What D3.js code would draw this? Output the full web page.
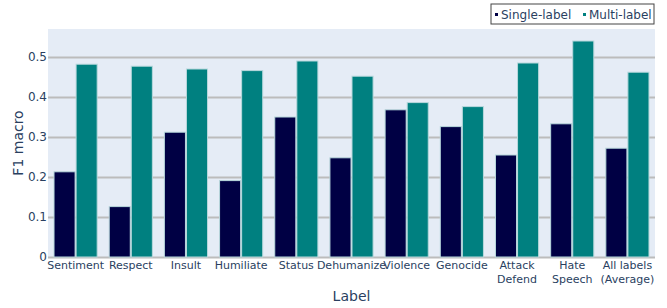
<!DOCTYPE html>
<html lang="en">
<head>
    <meta charset="UTF-8">
    <title>F1 macro by label</title>
    <script src="https://d3js.org/d3.v7.min.js"></script>
    <style>
        body { margin: 0; background: #fff; }
        text { font-family: "DejaVu Sans", Verdana, sans-serif; }
    </style>
</head>
<body>
    <script>
        var labels = ["Sentiment", "Respect", "Insult", "Humiliate", "Status", "Dehumanize",
            "Violence", "Genocide", "Attack\nDefend", "Hate\nSpeech", "All labels\n(Average)"];
        var singleLabel = [0.213, 0.126, 0.312, 0.191, 0.350, 0.248, 0.368, 0.326, 0.255, 0.333, 0.272];
        var multiLabel = [0.482, 0.477, 0.470, 0.466, 0.490, 0.452, 0.386, 0.376, 0.485, 0.540, 0.462];
        var seriesNames = ["Single-label", "Multi-label"];
        var yTicks = [0, 0.1, 0.2, 0.3, 0.4, 0.5];

        var w = 667, h = 308;
        var margin = { top: 29, right: 12, bottom: 51, left: 48 };
        var colors = ["#000044", "#008080"];
        var textColor = "#2a3f5f";

        var svg = d3.select("body").append("svg")
            .attr("width", w)
            .attr("height", h);

        var x = d3.scaleBand()
            .domain(labels)
            .range([margin.left, w - margin.right])
            .paddingInner(0.2)
            .paddingOuter(0.1);

        var xSub = d3.scaleBand()
            .domain(seriesNames)
            .range([0, x.bandwidth()]);

        var y = d3.scaleLinear()
            .domain([0, 0.57])
            .range([h - margin.bottom, margin.top]);

        // plot background
        svg.append("rect")
            .attr("x", margin.left)
            .attr("y", margin.top)
            .attr("width", w - margin.left - margin.right)
            .attr("height", h - margin.top - margin.bottom)
            .attr("fill", "#e5ecf6");

        // gridlines + y labels
        var yAxis = svg.append("g")
            .attr("transform", "translate(" + margin.left + ",0)")
            .call(d3.axisLeft(y).tickValues(yTicks)
                .tickSize(-(w - margin.left - margin.right))
                .tickPadding(1)
                .tickFormat(function(d) { return d === 0 ? "0" : d3.format(".1f")(d); }));
        yAxis.select(".domain").remove();
        yAxis.selectAll("line").attr("stroke", "#bcbcbc").attr("stroke-width", 2);
        yAxis.selectAll("text").attr("fill", textColor).attr("font-size", 12);

        var data = labels.map(function(l, i) {
            return { label: l, values: [singleLabel[i], multiLabel[i]] };
        });

        var groups = svg.selectAll("g.grp")
            .data(data)
            .enter().append("g")
            .attr("class", "grp")
            .attr("transform", function(d) { return "translate(" + x(d.label) + ",0)"; });

        groups.selectAll("rect")
            .data(function(d) { return d.values.map(function(v, i) { return { s: i, v: v }; }); })
            .enter().append("rect")
            .attr("x", function(d) { return xSub(seriesNames[d.s]) + 0.5; })
            .attr("y", function(d) { return y(d.v); })
            .attr("width", xSub.bandwidth() - 1)
            .attr("height", function(d) { return y(0) - y(d.v); })
            .attr("fill", function(d) { return colors[d.s]; })
            .attr("stroke", "#b8d8dc")
            .attr("stroke-width", 1);

        // x tick labels (multi-line)
        var xLab = svg.append("g");
        labels.forEach(function(l) {
            var t = xLab.append("text")
                .attr("x", x(l) + x.bandwidth() / 2)
                .attr("y", h - margin.bottom + 12)
                .attr("text-anchor", "middle")
                .attr("fill", textColor)
                .attr("font-size", 11);
            l.split("\n").forEach(function(part, k) {
                t.append("tspan")
                    .attr("x", x(l) + x.bandwidth() / 2)
                    .attr("dy", k === 0 ? 0 : 14)
                    .text(part);
            });
        });

        // axis titles
        svg.append("text")
            .attr("x", margin.left + (w - margin.left - margin.right) / 2)
            .attr("y", h - 7)
            .attr("text-anchor", "middle")
            .attr("fill", textColor)
            .attr("font-size", 14)
            .text("Label");

        svg.append("text")
            .attr("transform", "translate(23," + (margin.top + (h - margin.top - margin.bottom) / 2) + ") rotate(-90)")
            .attr("text-anchor", "middle")
            .attr("fill", textColor)
            .attr("font-size", 14)
            .text("F1 macro");

        // legend
        var legend = svg.append("g");
        var lx = 491, ly = 4, lw = 163, lh = 20;
        legend.append("rect")
            .attr("x", lx).attr("y", ly)
            .attr("width", lw).attr("height", lh)
            .attr("fill", "#fff")
            .attr("stroke", "#444")
            .attr("stroke-width", 1);
        var offsets = [4, 92];
        seriesNames.forEach(function(n, i) {
            legend.append("rect")
                .attr("x", lx + offsets[i]).attr("y", ly + 9)
                .attr("width", 3).attr("height", 3)
                .attr("fill", colors[i]);
            legend.append("text")
                .attr("x", lx + offsets[i] + 6)
                .attr("y", ly + 14.5)
                .attr("fill", textColor)
                .attr("font-size", 12)
                .text(n);
        });
    </script>
</body>
</html>
